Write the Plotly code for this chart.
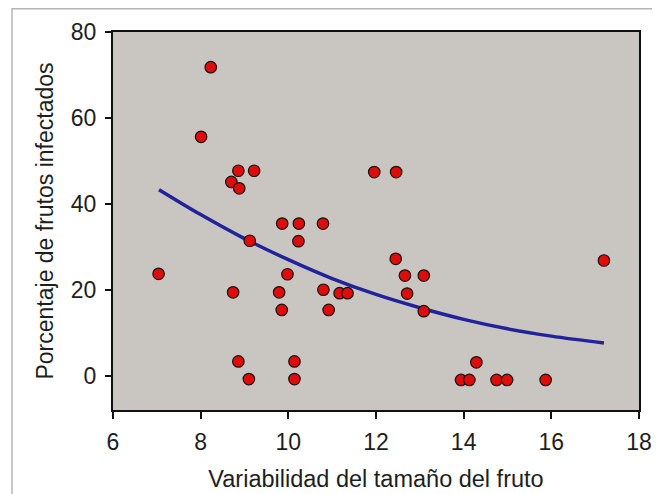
import plotly.graph_objects as go

# Data points
x_vals = [8.23, 8.01,
          8.86, 9.22, 8.70, 8.88,
          9.86, 10.24, 10.79, 9.12, 10.23, 7.04, 9.98,
          11.96, 12.46, 12.45, 17.2, 12.66, 13.09,
          8.74, 9.79, 10.80, 11.17, 11.35, 9.85, 10.92,
          8.86, 10.14, 9.10, 10.14,
          12.71, 13.09, 14.29, 13.94, 14.13, 14.75, 14.99, 15.87]
y_vals = [71.8, 55.6,
          47.7, 47.7, 45.1, 43.6,
          35.4, 35.4, 35.4, 31.4, 31.3, 23.7, 23.6,
          47.4, 47.4, 27.2, 26.8, 23.3, 23.3,
          19.4, 19.4, 20.0, 19.2, 19.2, 15.3, 15.3,
          3.3, 3.3, -0.8, -0.8,
          19.1, 15.0, 3.1, -1.0, -1.0, -1.0, -1.0, -1.0]

# Fitted curve, points
fit_x = [7.05, 8, 9, 10, 11, 12, 13, 14, 15, 16, 17.2]
fit_y = [43.3, 37.5, 31.9, 27.0, 22.6, 18.9, 15.8, 13.1, 10.9, 9.2, 7.6]

x_ticks = [6, 8, 10, 12, 14, 16, 18]
y_ticks = [0, 20, 40, 60, 80]

x_title = "Variabilidad del tamaño del fruto"
y_title = "Porcentaje de frutos infectados"

FONT = "Liberation Sans, Arial, sans-serif"
TXT = "#1e1e1e"

fig = go.Figure()
fig.add_trace(go.Scatter(
    x=fit_x, y=fit_y, mode="lines", line=dict(color="#22229c", width=3.5, shape="spline"),
    hoverinfo="skip", showlegend=False))
fig.add_trace(go.Scatter(
    x=x_vals, y=y_vals, mode="markers",
    marker=dict(size=11.5, color="#e00c0c", line=dict(color="#1a1010", width=1.2)),
    showlegend=False))

# page body has an 8px default margin, so the figure is sized 8px smaller
fig.update_layout(
    template="none",
    width=652, height=486,
    margin=dict(l=105, r=21, t=24, b=84),
    paper_bgcolor="white",
    plot_bgcolor="#c9c6c1",
    font=dict(family=FONT, color=TXT, size=22),
    xaxis=dict(
        automargin=False,
        range=[6, 18], tickvals=x_ticks, ticktext=[str(v) for v in x_ticks],
        showgrid=False, zeroline=False, showline=True, linecolor="#111", linewidth=2,
        mirror=True, ticks="outside", ticklen=7, tickwidth=2, tickcolor="#111",
        ticklabelstandoff=3,
        tickfont=dict(size=23, family=FONT, color=TXT),
        title=dict(text=x_title, font=dict(size=23.5, family=FONT, color=TXT), standoff=17),
    ),
    yaxis=dict(
        automargin=False,
        range=[-8, 80], tickvals=y_ticks, ticktext=[str(v) for v in y_ticks],
        showgrid=False, zeroline=False, showline=True, linecolor="#111", linewidth=2,
        mirror=True, ticks="outside", ticklen=6, tickwidth=1.5, tickcolor="#111",
        ticklabelstandoff=4,
        tickfont=dict(size=23, family=FONT, color=TXT),
        title=dict(text=y_title, font=dict(size=23, family=FONT, color=TXT), standoff=11),
    ),
    shapes=[dict(type="rect", xref="paper", yref="paper",
                 x0=-0.192, x1=1.2, y0=-0.4, y1=1.0615,
                 line=dict(color="#b5b5b5", width=1.5), fillcolor="rgba(0,0,0,0)",
                 layer="above")],
)

fig.write_html("out.html")
